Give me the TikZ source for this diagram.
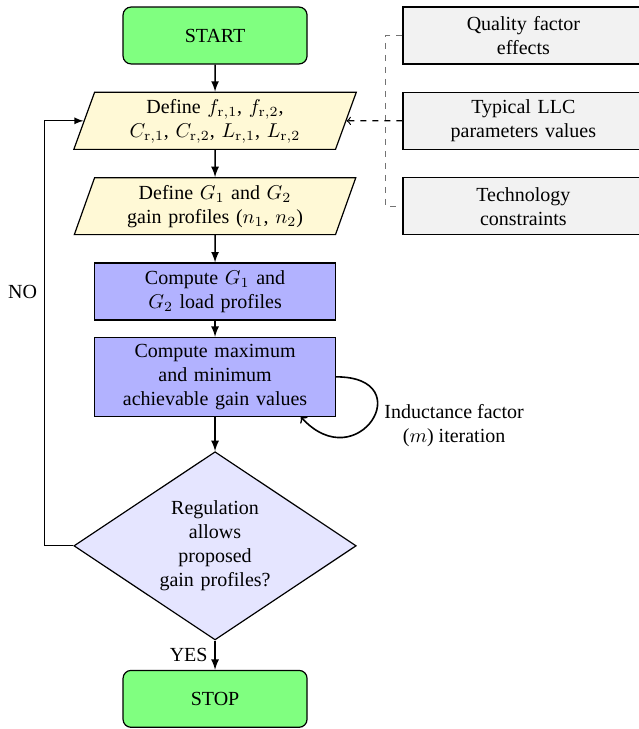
\documentclass[tikz,border=0pt]{standalone}
\usepackage[no-math]{fontspec}
\setmainfont{Liberation Serif}
\usetikzlibrary{shapes.geometric}
\definecolor{defcol}{RGB}{255,249,214}
\tikzset{
    term/.style={draw, rounded corners=4pt, fill=green!50, text width=3cm, align=center, minimum height=1cm},
    io/.style={draw, trapezium, trapezium left angle=70, trapezium right angle=110, trapezium stretches=true, fill=defcol, text width=4cm, align=center, minimum height=1cm},
    proc/.style={draw, fill=blue!30, text width=4cm, align=center, minimum height=1cm},
    decide/.style={draw, diamond, aspect=1.5, fill=blue!10, text width=2cm, align=center},
    info/.style={draw, fill=gray!10, text width=4cm, align=center, minimum height=1cm},
    flow/.style={thick, -latex},
}
\begin{document}
\begin{tikzpicture}[semithick]
                \useasboundingbox (-3.78,0.624) rectangle (7.45,-12.19);

                \node[term] (start) at (0,0) {START};
                \node[io] (def1) at (0,-1.5) {Define $f_{\mathrm{r},1}$, $f_{\mathrm{r},2}$,\\ $C_{\mathrm{r},1}$, $C_{\mathrm{r},2}$, $L_{\mathrm{r},1}$, $L_{\mathrm{r},2}$};
                \node[io] (def2) at (0,-3) {Define $G_1$ and $G_2$\\ gain profiles ($n_1$, $n_2$)};
                \node[proc] (comp1) at (0,-4.5) {Compute $G_1$ and\\ $G_2$ load profiles};
                \node[proc] (comp2) at (0,-6) {Compute maximum\\ and minimum\\ achievable gain values};
                \node[decide] (dec) at (0,-8.97) {Regulation\\ allows\\ proposed\\ gain profiles?};
                \node[term] (stop) at (0,-11.66) {STOP};

                \node[info] (qual) at (5.42,0) {Quality factor\\ effects};
                \node[info] (typ) at (5.42,-1.5) {Typical LLC\\ parameters values};
                \node[info] (tech) at (5.42,-3) {Technology\\ constraints};

                \coordinate (back) at (-3,0);
                \coordinate (bus) at (3,0);

                \draw[flow] (start) -- (def1);
                \draw[flow] (def1) -- (def2);
                \draw[flow] (def2) -- (comp1);
                \draw[flow] (comp1) -- (comp2);
                \draw[flow] (comp2) -- (dec);
                \draw[flow] (dec) -- node[left] (yes) {YES} (stop);

                \draw[-latex] (dec.west) -- (back |- dec.west)
                -- (back |- def1.west) -- (def1.west);
                \node[anchor=east] (no) at (back |- comp1) {NO};

                \draw[color=black!55,dashed] (qual.west) -- (bus |- qual.west)
                -- (bus |- tech.west) -- (tech.west);
                \draw[dashed,->] (typ.west) -- (def1.east);

                \draw[thick,->] (comp2.east) .. controls +(1.5,0) and +(1,-1.1) .. ([xshift=-0.62cm]comp2.south east);
                \node[anchor=west, align=center] (iter) at (2.85,-6.85) {Inductance factor\\ ($m$) iteration};
            \end{tikzpicture}
\end{document}
